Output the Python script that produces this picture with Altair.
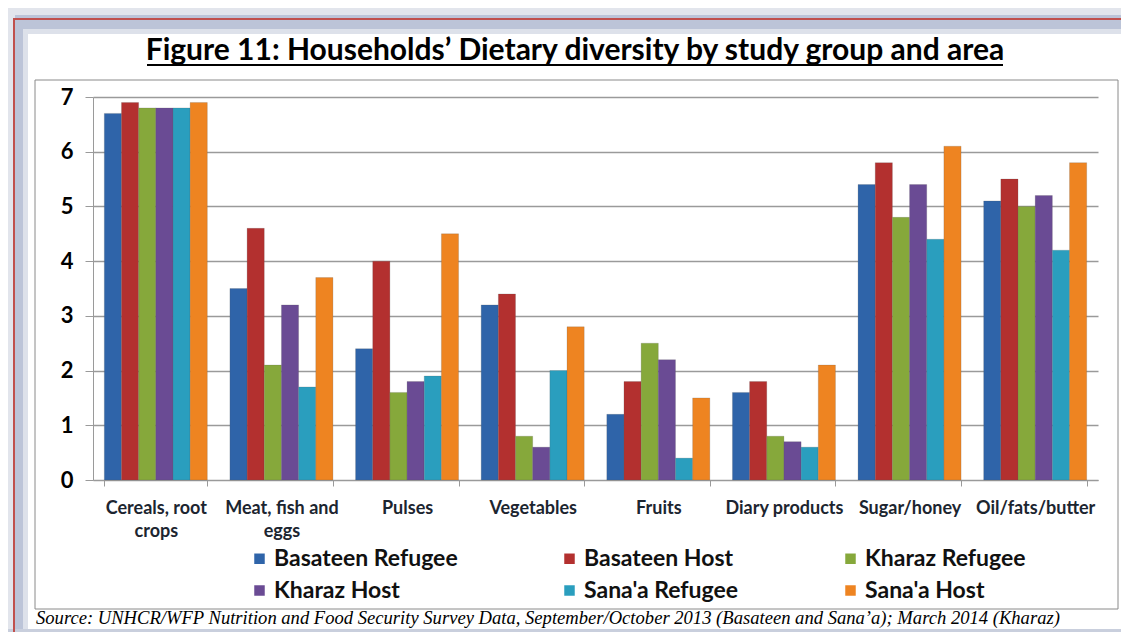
import altair as alt
import pandas as pd

categories = ["Cereals, root crops", "Meat, fish and eggs", "Pulses", "Vegetables",
              "Fruits", "Diary products", "Sugar/honey", "Oil/fats/butter"]
series = ["Basateen Refugee", "Basateen Host", "Kharaz Refugee",
          "Kharaz Host", "Sana'a Refugee", "Sana'a Host"]
colors = ["#2f64a9", "#b3302f", "#86a83b", "#6a4b94", "#2a9ebe", "#ee8421"]

basateen_refugee = [6.7, 3.5, 2.4, 3.2, 1.2, 1.6, 5.4, 5.1]
basateen_host = [6.9, 4.6, 4.0, 3.4, 1.8, 1.8, 5.8, 5.5]
kharaz_refugee = [6.8, 2.1, 1.6, 0.8, 2.5, 0.8, 4.8, 5.0]
kharaz_host = [6.8, 3.2, 1.8, 0.6, 2.2, 0.7, 5.4, 5.2]
sanaa_refugee = [6.8, 1.7, 1.9, 2.0, 0.4, 0.6, 4.4, 4.2]
sanaa_host = [6.9, 3.7, 4.5, 2.8, 1.5, 2.1, 6.1, 5.8]

y_ticks = [0, 1, 2, 3, 4, 5, 6, 7]

title_text = "Figure 11: Households\u2019 Dietary diversity by study group and area"
source_text = ("Source: UNHCR/WFP Nutrition and Food Security Survey Data, "
               "September/October 2013 (Basateen and Sana\u2019a); March 2014 (Kharaz)")

values_by_series = [basateen_refugee, basateen_host, kharaz_refugee,
                    kharaz_host, sanaa_refugee, sanaa_host]
rows = []
for s, vals in zip(series, values_by_series):
    for c, v in zip(categories, vals):
        rows.append({"Category": c, "Series": s, "Value": v})
df = pd.DataFrame(rows)

FONT = "Lato"
GRAY = "#9a9a9a"

label_expr = ("datum.label == 'Cereals, root crops' ? ['Cereals, root', 'crops'] : "
              "datum.label == 'Meat, fish and eggs' ? ['Meat, fish and', 'eggs'] : datum.label")

bars = alt.Chart(df).mark_bar(stroke="#555555", strokeWidth=0.4, strokeOpacity=0.5).encode(
    x=alt.X("Category:N", sort=categories,
            scale=alt.Scale(paddingInner=0.18, paddingOuter=0.09),
            axis=alt.Axis(title=None, labelAngle=0, labelFont=FONT, labelFontSize=18,
                          labelFontWeight="bold", labelColor="#1c2530", labelPadding=13,
                          labelLineHeight=23, labelExpr=label_expr, tickBand="extent",
                          tickSize=6, tickColor=GRAY, domainColor=GRAY, grid=False)),
    xOffset=alt.XOffset("Series:N", sort=series,
                        scale=alt.Scale(paddingInner=0, paddingOuter=0)),
    y=alt.Y("Value:Q", scale=alt.Scale(domain=[0, 7], nice=False),
            axis=alt.Axis(title=None, values=y_ticks, labelFont=FONT, labelFontSize=22,
                          labelFontWeight="bold", labelColor="#000000", tickSize=8,
                          tickColor=GRAY, gridColor=GRAY, gridWidth=1.3, domainColor=GRAY,
                          labelPadding=12)),
    color=alt.Color("Series:N", sort=series,
                    scale=alt.Scale(domain=series, range=colors),
                    legend=alt.Legend(title=None, orient="none", legendX=155, legendY=450,
                                      direction="horizontal", columns=3,
                                      symbolType="square", symbolSize=110,
                                      symbolStrokeWidth=0, labelFont=FONT, labelFontSize=23,
                                      labelFontWeight="bold", labelColor="#111111",
                                      columnPadding=100, rowPadding=8, labelOffset=3,
                                      labelLimit=400)),
)

one = alt.Data(values=[{"t": title_text, "s": source_text}])

def strip(x1, x2, y1, y2, color):
    return alt.Chart(one).mark_rect(color=color).encode(
        x=alt.value(x1), x2=alt.value(x2), y=alt.value(y1), y2=alt.value(y2))

frame = [
    strip(-85, 1028, -89, -67, "#e2e5ec"),
    strip(-85, -69, -89, 535, "#e2e5ec"),
    strip(-78, 1028, -82, -67, "#bcc4d8"),
    strip(-78, -69, -82, 535, "#bcc4d8"),
    strip(-70, 1028, -68, -63, "#dde1ea"),
    strip(-70, -65, -68, 535, "#dde1ea"),
    strip(-85, 1028, 532, 535, "#c9cfdd"),
]

red_line = alt.Chart(one).mark_rect(fillOpacity=0, stroke="#c0504d", strokeWidth=2).encode(
    x=alt.value(-79), x2=alt.value(1100), y=alt.value(-78), y2=alt.value(600))

box = alt.Chart(one).mark_rect(fillOpacity=0, stroke="#8a8a8a", strokeWidth=1).encode(
    x=alt.value(-58), x2=alt.value(1025), y=alt.value(-17), y2=alt.value(512))

title = alt.Chart(one).mark_text(font=FONT, fontSize=30, fontWeight="bold", color="#000000",
                                 align="center", baseline="alphabetic").encode(
    x=alt.value(482), y=alt.value(-37), text="t:N")

underline = alt.Chart(one).mark_rule(color="#000000", strokeWidth=2).encode(
    x=alt.value(54), x2=alt.value(910), y=alt.value(-32))

source = alt.Chart(one).mark_text(font="Liberation Serif", fontStyle="italic", fontSize=18.6,
                                  color="#000000", align="left", baseline="alphabetic").encode(
    x=alt.value(-57), y=alt.value(527), text="s:N")

chart = alt.layer(*frame, red_line, box, bars, title, underline, source).properties(
    width=1005, height=383,
    autosize=alt.AutoSizeParams(type="none"),
    padding={"left": 85, "top": 89, "right": 23, "bottom": 152},
    background="#ffffff",
).configure_view(stroke=None)

chart.save("out.html", embed_options={"renderer": "svg", "actions": False})
